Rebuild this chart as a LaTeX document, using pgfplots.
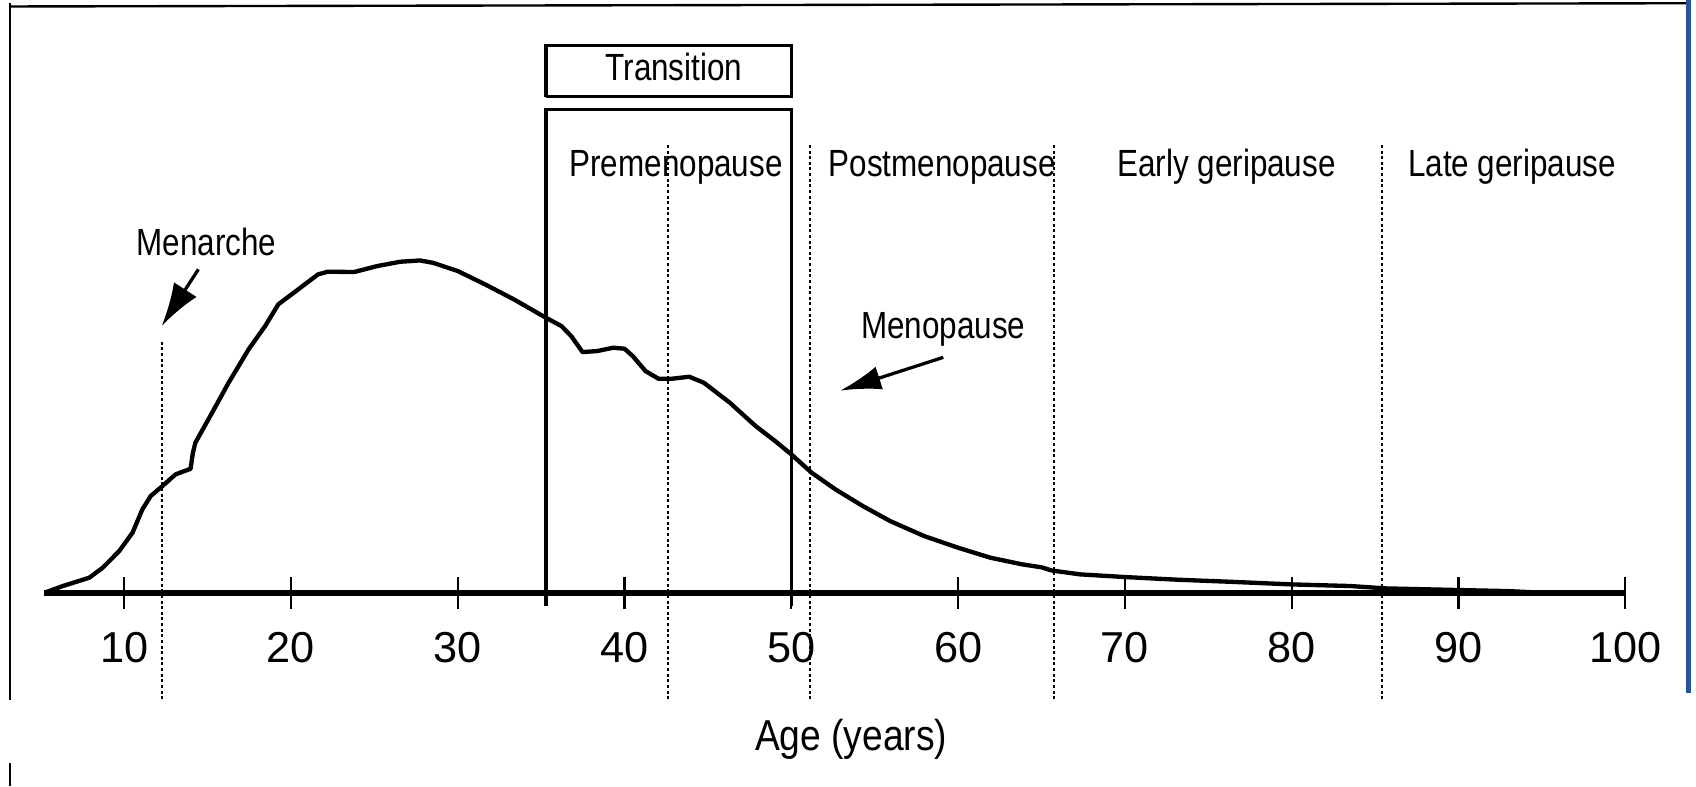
\documentclass[border=0pt]{standalone}
\usepackage{fontspec}
\setmainfont{Liberation Sans}
\newfontfamily\lbl[FakeStretch=0.83]{Liberation Sans}
\newfontfamily\axlbl[FakeStretch=0.86]{Liberation Sans}
\usepackage{pgfplots}
\pgfplotsset{compat=1.18}
\usetikzlibrary{arrows.meta}
\definecolor{frameblue}{HTML}{25579A}
\begin{document}
\begin{tikzpicture}
\begin{axis}[
  scale only axis,
  width=730.9pt, height=363.5pt,
  xmin=5.2, xmax=100, ymin=-179, ymax=548,
  axis x line=middle, axis y line=none,
  x axis line style={-, line width=2.6pt},
  every inner x axis line/.append style={-},
  xtick={10,20,...,100},
  ytick=\empty,
  tick align=center,
  major tick length=15pt,
  every tick/.style={black, line width=1pt},
  /pgf/number format/assume math mode=true,
  xticklabel style={anchor=base, yshift=-24.6pt, font=\fontsize{20}{22}\selectfont},
  xlabel={Age (years)},
  every axis x label/.style={at={(axis description cs:0.5104,0.0462)}, anchor=base, font=\axlbl\fontsize{20}{22}\selectfont},
  clip=false,
]
\coordinate (bbLL) at (axis cs:2.555,-179);
\coordinate (bbUR) at (axis cs:104.24,548);

% frame
\addplot[black, line width=1.1pt] coordinates {(3.14,545) (3.14,-99)};
\addplot[black, line width=1.1pt] coordinates {(3.14,-157.6) (3.14,-179)};
\addplot[black, line width=1.1pt] coordinates {(3.14,542) (103.72,545)};
\addplot[frameblue, line width=2.3pt] coordinates {(103.76,548) (103.76,-92.6)};

% event lines (dotted)
\addplot[black, line width=0.9pt, dash pattern=on 1.4pt off 1.2pt] coordinates {(12.29,232) (12.29,-98)};
\addplot[black, line width=0.9pt, dash pattern=on 1.4pt off 1.2pt] coordinates {(42.62,414) (42.62,-99)};
\addplot[black, line width=0.9pt, dash pattern=on 1.4pt off 1.2pt] coordinates {(51.12,414) (51.12,-99)};
\addplot[black, line width=0.9pt, dash pattern=on 1.4pt off 1.2pt] coordinates {(65.72,414) (65.72,-99)};
\addplot[black, line width=0.9pt, dash pattern=on 1.4pt off 1.2pt] coordinates {(85.42,414) (85.42,-99)};

% premenopause box and transition box
\addplot[black, line width=1.5pt] coordinates {(35.29,-12) (35.29,447) (50.0,447) (50.0,-12)};
\addplot[black, line width=1.5pt] coordinates {(35.29,458.6) (35.29,505.8) (50.0,505.8) (50.0,458.6) (35.29,458.6)};

% curve
\addplot[black, line width=2pt, line join=round] coordinates {
(5.23,0) (6.32,6.2) (7.91,13.9) (8.71,23.1) (9.70,38.5) (10.50,55.5) (11.09,77) (11.59,89.4)
(12.29,98.6) (13.08,109.4) (13.98,114.6) (14.12,129.4) (14.27,138.7) (15.27,166.4) (16.26,194.1)
(17.46,225) (18.45,246.5) (19.24,266.6) (20.43,280.4) (21.62,294.3) (22.21,296.8) (23.79,296.5)
(25.17,302) (26.55,306) (27.73,307.2) (28.52,305) (30.0,297.4) (31.65,285) (33.39,271)
(35.29,254.2) (36.22,246.5) (36.80,237.3) (37.48,222.5) (38.35,223.4) (39.32,226.5) (40.0,225.6)
(40.49,218.8) (41.26,204.9) (42.04,197.8) (42.82,197.8) (43.88,199.7) (44.76,194.1) (46.31,175.7)
(47.86,154.1) (49.03,140.2) (50.0,127.9) (51.22,110.9) (52.65,95.5) (54.29,80.1) (55.92,66.3)
(57.96,52.4) (60.0,41.6) (61.93,32.4) (63.85,26.2) (65.0,23.5) (65.6,20.6) (67.3,17) (70,14.5)
(73.2,12) (76.2,10.2) (80,7.7) (83.5,6.2) (85.65,4) (90,2.5) (93.0,1.5) (95,0)
};

% arrows
\draw[line width=1.5pt, -{Latex[length=20pt,width=12.5pt]}] (axis cs:14.45,299) -- (axis cs:12.25,246.6);
\draw[line width=1.5pt, -{Latex[length=19pt,width=11pt]}] (axis cs:59.11,217.6) -- (axis cs:52.92,186.8);

% labels
\begin{scope}[every node/.style={anchor=base, inner sep=0pt, font=\lbl\fontsize{17.5}{20}\selectfont}]
\node at (axis cs:42.96,474) {Transition};
\node at (axis cs:43.09,385) {Premenopause};
\node at (axis cs:59.04,385) {Postmenopause};
\node at (axis cs:76.09,385) {Early geripause};
\node at (axis cs:93.21,385) {Late geripause};
\node at (axis cs:14.94,312) {Menarche};
\node at (axis cs:59.10,235.2) {Menopause};
\end{scope}
\end{axis}
\pgfresetboundingbox
\useasboundingbox (bbLL) rectangle (bbUR);
\end{tikzpicture}
\end{document}
